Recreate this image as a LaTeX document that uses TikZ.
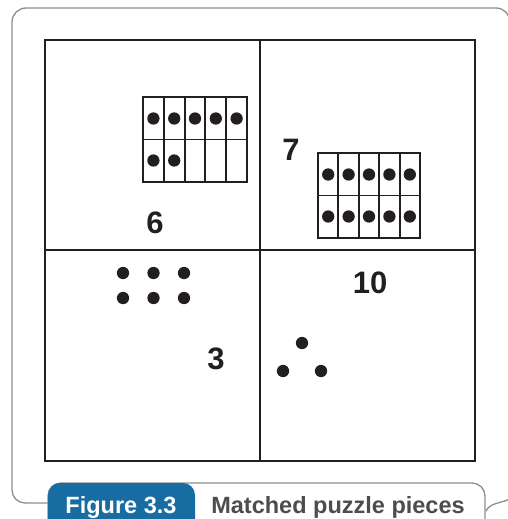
\documentclass[tikz,border=0pt]{standalone}
\usepackage{fontspec}
\setmainfont{Liberation Sans}
\definecolor{puzzleink}{HTML}{231F20}
\definecolor{framegray}{HTML}{8E8E8E}
\definecolor{captionblue}{HTML}{176DA2}
\definecolor{captiongray}{HTML}{4D4D4D}
\tikzset{
  piece line/.style={draw=puzzleink, line width=2.4pt},
  frame cell/.style={draw=puzzleink, line width=1.9pt},
  counter/.style={circle, fill=puzzleink, inner sep=0pt, minimum size=12.3pt},
  piece number/.style={font=\fontsize{31}{31}\selectfont\bfseries,
    text=puzzleink, anchor=base, inner sep=0pt},
  outer border/.style={draw=framegray, line width=1.3pt},
  caption label/.style={font=\fontsize{23.5}{23.5}\selectfont\bfseries,
    anchor=base, inner sep=0pt},
}
\begin{document}
\begin{tikzpicture}[x=1pt, y=-1pt]
  \useasboundingbox (0,0) rectangle (508,519);
  \clip (0,0) rectangle (508,519);

  % outer rounded frame
  \draw[outer border] (48,503) -- (25,503) arc[start angle=90, end angle=180, radius=13]
    -- (12,22) arc[start angle=180, end angle=270, radius=14]
    -- (496,8) arc[start angle=270, end angle=360, radius=14] -- (510,490);
  \draw[outer border] (486,511) .. controls (490,503) and (498,504) .. (510,499);

  % puzzle square
  \draw[piece line] (45,40) rectangle (475,461);
  \draw[piece line] (45,250) -- (475,250);
  \draw[piece line] (260,40) -- (260,461);

  % ten frame with 7
  \begin{scope}[shift={(143,97)}]
    \draw[frame cell] (0,0) rectangle (104,85);
    \draw[frame cell] (0,42.5) -- (104,42.5);
    \foreach \i in {1,...,4}
      \draw[frame cell] (\i*20.8,0) -- (\i*20.8,85);
    \foreach \n in {0,...,6}
      \node[counter] (a\n) at ({10.4+20.8*mod(\n,5)},{21.5+42*int(\n/5)}) {};
  \end{scope}

  % ten frame with 10
  \begin{scope}[shift={(318,153)}]
    \draw[frame cell] (0,0) rectangle (102,85);
    \draw[frame cell] (0,42.5) -- (102,42.5);
    \foreach \i in {1,...,4}
      \draw[frame cell] (\i*20.4,0) -- (\i*20.4,85);
    \foreach \n in {0,...,9}
      \node[counter] (b\n) at ({10.2+20.4*mod(\n,5)},{21.5+42*int(\n/5)}) {};
  \end{scope}

  % six dots
  \foreach \n in {0,...,5}
    \node[counter] (c\n) at ({123+30.5*mod(\n,3)},{273+25*int(\n/3)}) {};

  % three dots
  \node[counter] (d0) at (302,343) {};
  \node[counter] (d1) at (283,371) {};
  \node[counter] (d2) at (321,371) {};

  % numerals
  \node[piece number] (six) at (155,233) {6};
  \node[piece number] (seven) at (291,160) {7};
  \node[piece number] (ten) at (370,293) {10};
  \node[piece number] (three) at (216,369) {3};

  % caption
  \draw[outer border, fill=white, rounded corners=13pt] (48,535) -- (48,483) -- (485,483) -- (485,535);
  \fill[captionblue, rounded corners=12pt] (48,535) rectangle (195,483);
  \node[caption label, text=white] (fig) at (121,513) {Figure 3.3};
  \node[caption label, text=captiongray] (title) at (338,513) {Matched puzzle pieces};
\end{tikzpicture}
\end{document}
